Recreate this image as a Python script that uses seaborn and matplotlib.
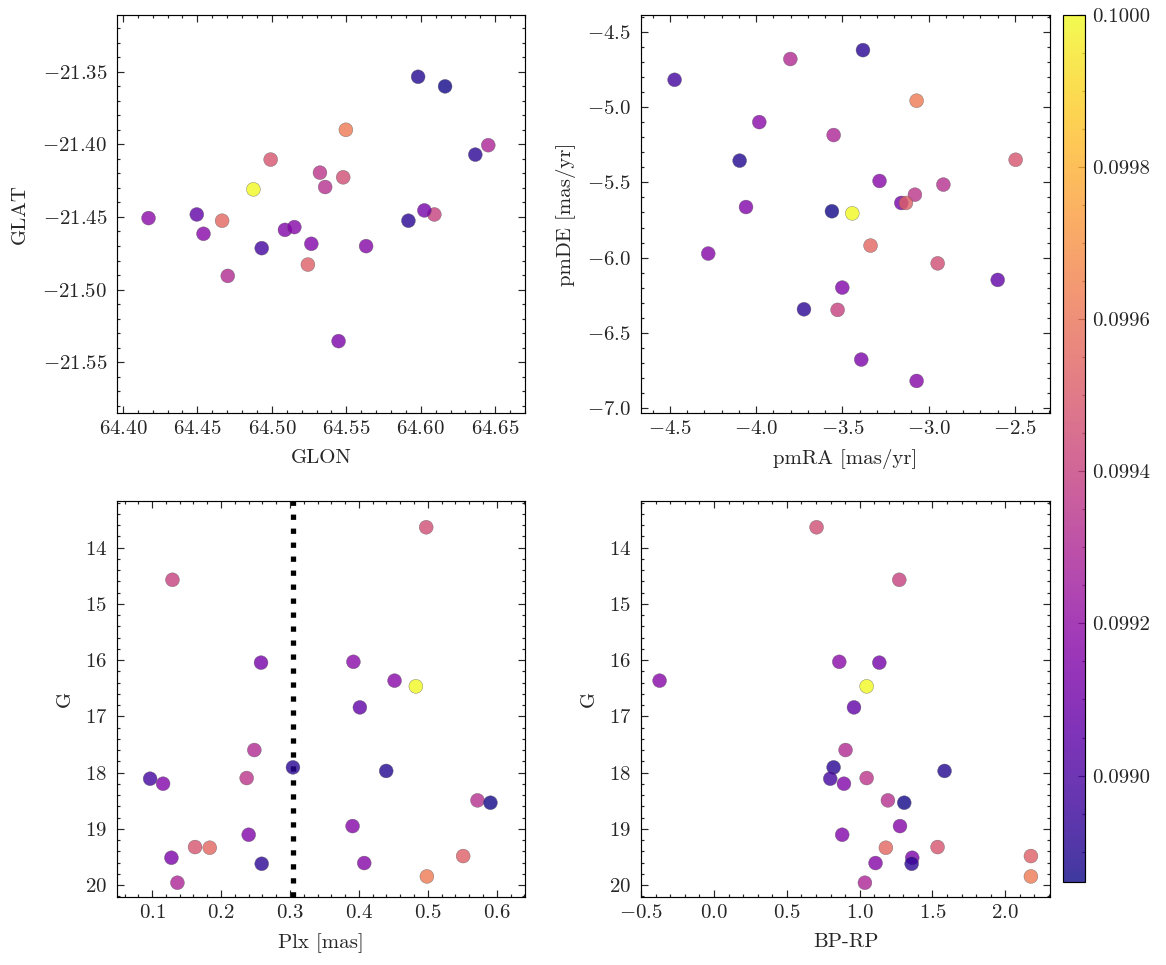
import numpy as np
import pandas as pd
import seaborn as sns
import matplotlib.pyplot as plt
import matplotlib as mpl
from matplotlib.ticker import AutoMinorLocator, MultipleLocator, FormatStrFormatter

# one entry per star
glon = [64.5479, 64.6091, 64.6024, 64.4172, 64.4541, 64.4876, 64.4496, 64.4704, 64.5917, 64.5982,
        64.4932, 64.5323, 64.5088, 64.5358, 64.6163, 64.5151, 64.5265, 64.4992, 64.4666, 64.5242,
        64.5448, 64.6366, 64.5633, 64.5497, 64.6453]
glat = [-21.4227, -21.4483, -21.4455, -21.4508, -21.4616, -21.4310, -21.4483, -21.4906, -21.4526, -21.3535,
        -21.4715, -21.4195, -21.4589, -21.4294, -21.3601, -21.4570, -21.4685, -21.4105, -21.4526, -21.4828,
        -21.5355, -21.4071, -21.4701, -21.3900, -21.4006]
pmra = [-2.948, -3.528, -3.159, -3.982, -3.285, -3.443, -2.600, -3.802, -3.381, -4.096,
        -4.473, -3.080, -4.059, -2.915, -3.561, -4.278, -3.501, -2.496, -3.337, -3.132,
        -3.391, -3.723, -3.070, -3.070, -3.551]
pmde = [-6.038, -6.347, -5.637, -5.100, -5.491, -5.706, -6.148, -4.681, -4.622, -5.356,
        -4.819, -5.582, -5.664, -5.515, -5.692, -5.973, -6.199, -5.350, -5.920, -5.637,
        -6.677, -6.343, -6.819, -4.958, -5.186]
plx = [0.4976, 0.1295, 0.2580, 0.3920, 0.4517, 0.4826, 0.4014, 0.2483, 0.3043, 0.4396,
       0.0971, 0.2372, 0.1159, 0.5720, 0.5908, 0.3908, 0.2401, 0.1623, 0.1836, 0.5512,
       0.1280, 0.2590, 0.4077, 0.4986, 0.1367]
gmag = [13.638, 14.572, 16.045, 16.030, 16.365, 16.466, 16.840, 17.598, 17.906, 17.970,
        18.108, 18.096, 18.197, 18.493, 18.535, 18.950, 19.104, 19.323, 19.335, 19.483,
        19.513, 19.620, 19.607, 19.845, 19.957]
bprp = [0.704, 1.272, 1.135, 0.860, -0.374, 1.048, 0.961, 0.903, 0.821, 1.583,
        0.798, 1.048, 0.892, 1.194, 1.306, 1.277, 0.880, 1.535, 1.180, 2.176,
        1.361, 1.357, 1.109, 2.176, 1.036]
prob = [0.09945, 0.09940, 0.09912, 0.09918, 0.09917, 0.10000, 0.09906, 0.09931, 0.09891, 0.09890,
        0.09898, 0.09935, 0.09915, 0.09933, 0.09887, 0.09916, 0.09915, 0.09948, 0.09955, 0.09952,
        0.09914, 0.09892, 0.09916, 0.09962, 0.09929]

plx_cut = 0.305

df = pd.DataFrame({'GLON': glon, 'GLAT': glat, 'pmRA': pmra, 'pmDE': pmde,
                   'Plx': plx, 'G': gmag, 'BP-RP': bprp, 'prob': prob})

sns.set_style('ticks')
plt.rcParams['font.family'] = ['serif']
plt.rcParams['font.serif'] = ['cmr10', 'DejaVu Serif']
plt.rcParams['mathtext.fontset'] = 'cm'
plt.rcParams['axes.formatter.use_mathtext'] = True
plt.rcParams['axes.unicode_minus'] = True
fs = 15
plt.rcParams.update({
    'font.size': fs, 'axes.labelsize': fs, 'xtick.labelsize': fs, 'ytick.labelsize': fs,
    'axes.linewidth': 0.85, 'axes.edgecolor': 'black', 'axes.labelpad': 8,
    'xtick.direction': 'in', 'ytick.direction': 'in',
    'xtick.top': True, 'ytick.right': True,
    'xtick.minor.visible': True, 'ytick.minor.visible': True,
    'xtick.major.size': 5, 'ytick.major.size': 5,
    'xtick.minor.size': 2.5, 'ytick.minor.size': 2.5,
    'xtick.major.width': 0.85, 'ytick.major.width': 0.85,
    'xtick.minor.width': 0.85, 'ytick.minor.width': 0.85,
    'xtick.major.pad': 5, 'ytick.major.pad': 7,
})

vmin, vmax = 0.09886, 0.1000
norm = mpl.colors.Normalize(vmin=vmin, vmax=vmax)

fig = plt.figure(figsize=(11.66, 9.65), dpi=100)
ax1 = fig.add_axes([0.1003, 0.572, 0.350, 0.4124])
ax2 = fig.add_axes([0.5497, 0.572, 0.3508, 0.4124])
ax3 = fig.add_axes([0.1003, 0.0705, 0.350, 0.4104])
ax4 = fig.add_axes([0.5497, 0.0705, 0.3508, 0.4104])
cax = fig.add_axes([0.9117, 0.086, 0.0189, 0.8984])

def draw(ax, x, y):
    sns.scatterplot(data=df, x=x, y=y, hue='prob', palette='plasma', hue_norm=norm,
                    s=100, alpha=0.8, edgecolor='0.35', linewidth=0.3, legend=False,
                    zorder=2, ax=ax)
    ax.xaxis.set_minor_locator(AutoMinorLocator())
    ax.yaxis.set_minor_locator(AutoMinorLocator())
    ax.tick_params(which='both', top=True, right=True, direction='in')

draw(ax1, 'GLON', 'GLAT')
ax1.set_xlim(64.396, 64.670)
ax1.set_ylim(-21.585, -21.311)
ax1.xaxis.set_major_locator(MultipleLocator(0.05))
ax1.yaxis.set_major_locator(MultipleLocator(0.05))
ax1.set_xlabel('GLON')
ax1.set_ylabel('GLAT', labelpad=10)

draw(ax2, 'pmRA', 'pmDE')
ax2.set_xlim(-4.668, -2.297)
ax2.set_ylim(-7.032, -4.389)
ax2.set_xlabel('pmRA [mas/yr]')
ax2.set_ylabel('pmDE [mas/yr]')

draw(ax3, 'Plx', 'G')
ax3.axvline(plx_cut, color='black', linestyle=':', linewidth=3.8, zorder=1)
ax3.set_xlim(0.049, 0.641)
ax3.set_ylim(20.21, 13.17)
ax3.set_xlabel('Plx [mas]')
ax3.set_ylabel('G')

draw(ax4, 'BP-RP', 'G')
ax4.set_xlim(-0.502, 2.307)
ax4.set_ylim(20.21, 13.17)
ax4.set_xlabel('BP-RP')
ax4.set_ylabel('G')

sm = mpl.cm.ScalarMappable(norm=norm, cmap='plasma')
sm.set_array([])
cbar = fig.colorbar(sm, cax=cax, alpha=0.8)
cbar.ax.yaxis.set_major_locator(MultipleLocator(0.0002))
cbar.ax.yaxis.set_major_formatter(FormatStrFormatter('%.4f'))
cbar.ax.yaxis.set_minor_locator(AutoMinorLocator())
cbar.ax.tick_params(which='both', direction='in', right=True, left=False, pad=5)
cbar.outline.set_linewidth(0.85)

fig.savefig('out.png', dpi=100)
